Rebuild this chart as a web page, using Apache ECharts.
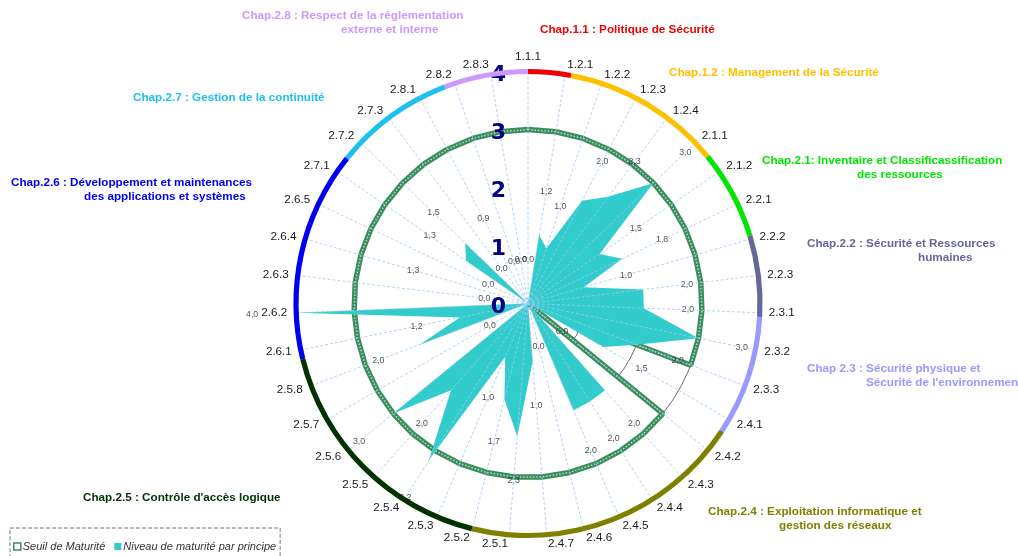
<!DOCTYPE html>
<html><head><meta charset="utf-8">
<script src="https://cdn.jsdelivr.net/npm/echarts@6/dist/echarts.min.js"></script>
<style>html,body{margin:0;padding:0;background:#fff}#c{width:1018px;height:556px}</style>
</head><body><div id="c"></div>
<script>
// ---- data ----
const categories = ['1.1.1','1.2.1','1.2.2','1.2.3','1.2.4','2.1.1','2.1.2','2.2.1','2.2.2','2.2.3',
  '2.3.1','2.3.2','2.3.3','2.4.1','2.4.2','2.4.3','2.4.4','2.4.5','2.4.6','2.4.7',
  '2.5.1','2.5.2','2.5.3','2.5.4','2.5.5','2.5.6','2.5.7','2.5.8','2.6.1','2.6.2',
  '2.6.3','2.6.4','2.6.5','2.7.1','2.7.2','2.7.3','2.8.1','2.8.2','2.8.3'];
const niveau = [0.0,1.2,1.0,2.0,2.3,3.0,1.5,1.8,1.0,2.0,
  2.0,3.0,2.0,1.5,0.0,2.0,2.0,2.0,0.0,1.0,
  2.3,1.7,1.0,3.2,2.0,3.0,0.0,2.0,1.2,4.0,
  0.0,1.3,0.0,1.3,1.5,0.0,0.9,0.0,0.0];
const seuil = [3,3,3,3,3,3,3,3,3,3,
  3,3,3,0,3,3,3,3,3,3,
  3,3,3,3,3,3,3,3,3,3,
  3,3,3,3,3,3,3,3,3];
const radiusTicks = [0,1,2,3,4];
const chapterNames = ['Chap.1.1','Chap.1.2','Chap.2.1','Chap.2.2','Chap.2.3','Chap.2.4','Chap.2.5','Chap.2.6','Chap.2.7','Chap.2.8'];
const chapterSpans = [10.7,40.0,22.3,20.3,30.1,70.6,62.1,52.6,30.3,21.0];
const chapterColors = ['#ee0000','#ffc000','#00e600','#666699','#9999ff','#808000','#003300','#0000ee','#1ec0f0','#cc99ff'];

// ---- layout / style ----
const C = [528, 303.5], R = 232;
const N = categories.length;
const RMAX = radiusTicks[radiusTicks.length - 1];
const LABEL_GAP = 0.76;
const FONT = "'Liberation Sans', Arial, sans-serif";
const seuilColor = '#3a8d5d', niveauColor = '#33cccc';
const catFont = {fontSize: 11.7, fontFamily: FONT, color: '#1a1a1a'};

const closed = arr => arr.map((v, i) => [v, i]).concat([[arr[0], N]]);

// category labels: left-aligned on the right half, right-aligned on the left half, vertically centred
const catLabel = (value, i) => {
  const a = i * 360 / N, s = Math.sin(a * Math.PI / 180);
  if (a === 0) return '{t|' + value + '}';
  if (Math.abs(s) < 0.3) return (s > 0 ? '{r|' : '{l|') + value + '}';
  return '{n|' + value + '}';
};

const notes = [
  ['Chap.2.8 : Respect de la réglementation', 242, 10, 9],
  ['externe et interne', 341, 23.5, 9],
  ['Chap.1.1 : Politique de Sécurité', 540, 24, 0],
  ['Chap.1.2 : Management de la Sécurité', 669, 67, 1],
  ['Chap.2.1: Inventaire et Classificassification', 762, 155, 2],
  ['des ressources', 857, 168.5, 2],
  ['Chap.2.2 : Sécurité et Ressources', 807, 238, 3],
  ['humaines', 918, 252, 3],
  ['Chap 2.3 : Sécurité physique et', 807, 363, 4],
  ["Sécurité de l'environnement", 866, 377, 4],
  ['Chap.2.4 : Exploitation informatique et', 708, 506, 5],
  ['gestion des réseaux', 779, 520, 5],
  ["Chap.2.5 : Contrôle d'accès logique", 83, 492, 6],
  ['Chap.2.6 : Développement et maintenances', 11, 177, 7],
  ['des applications et systèmes', 84, 190.5, 7],
  ['Chap.2.7 : Gestion de la continuité', 133, 92, 8]
];

const hiddenAngle = idx => ({polarIndex: idx, type: 'value', min: 0, max: N, interval: 1, startAngle: 90, clockwise: true,
  axisLine: {show: false}, axisTick: {show: false}, axisLabel: {show: false}, splitLine: {show: false}});

const chart = echarts.init(document.getElementById('c'), null, {renderer: 'canvas'});
chart.setOption({
  animation: false,
  backgroundColor: '#fff',
  polar: [{center: C, radius: R}, {center: C, radius: R}, {center: C, radius: R * (RMAX + 1) / RMAX}],
  angleAxis: [
    hiddenAngle(0),
    {polarIndex: 1, type: 'category', data: categories, boundaryGap: false, startAngle: 90, clockwise: true, z: 10,
     axisLine: {show: false}, axisTick: {show: false},
     axisLabel: {interval: 0, margin: 9, color: '#1a1a1a', fontSize: 11.7, fontFamily: FONT, lineHeight: 1,
       formatter: catLabel,
       rich: {
         n: Object.assign({lineHeight: 1}, catFont),
         r: Object.assign({lineHeight: 1, padding: [0, 0, 0, 27]}, catFont),
         l: Object.assign({lineHeight: 1, padding: [0, 27, 0, 0]}, catFont),
         t: Object.assign({lineHeight: 12}, catFont)
       }},
     splitLine: {show: true, interval: 0, lineStyle: {color: '#9ccaf2', width: 0.8, type: [3, 2]}}},
    hiddenAngle(2)
  ],
  radiusAxis: [
    {polarIndex: 0, min: 0, max: RMAX, interval: 1,
     axisLine: {show: false}, axisTick: {show: false}, axisLabel: {show: false},
     splitLine: {show: true, lineStyle: {color: '#444', width: 0.8}}},
    {polarIndex: 1, min: 0, max: RMAX, interval: 1, z: 11,
     axisLine: {show: false}, axisTick: {show: false}, splitLine: {show: false},
     axisLabel: {margin: 22, formatter: v => '{v|' + v + '}',
       rich: {v: {color: '#000080', fontSize: 22, fontWeight: 'bold', padding: [7, 0, 0, 0],
         fontFamily: "'DejaVu Sans', Verdana, sans-serif"}}}},
    {polarIndex: 2, min: 0, max: RMAX + 1, interval: 1,
     axisLine: {show: false}, axisTick: {show: false}, axisLabel: {show: false}, splitLine: {show: false}}
  ],
  legend: {
    left: 10, top: 528, orient: 'horizontal',
    padding: [13, 4, 12, 3], itemWidth: 7, itemHeight: 7, itemGap: 9,
    borderColor: '#777', borderWidth: 1, borderType: 'dashed',
    textStyle: {fontStyle: 'italic', fontSize: 11, color: '#333', fontFamily: FONT, padding: [0, 0, 0, -3]},
    data: [
      {name: 'Seuil de Maturité', icon: 'rect', itemStyle: {color: '#fff', borderColor: seuilColor, borderWidth: 1.5}},
      {name: 'Niveau de maturité par principe', icon: 'rect', itemStyle: {color: niveauColor}}
    ]
  },
  graphic: notes.map(n => ({
    type: 'text', left: n[1], top: n[2], z: 20,
    style: {text: n[0], fill: chapterColors[n[3]], fontSize: 11.7, fontWeight: 'bold', fontFamily: FONT}
  })),
  series: [
    {name: 'Seuil de Maturité', type: 'line', coordinateSystem: 'polar', polarIndex: 0,
     data: closed(seuil), symbol: 'none', z: 2, silent: true,
     itemStyle: {color: seuilColor},
     lineStyle: {color: seuilColor, width: 5.5},
     areaStyle: {color: '#fff', opacity: 1}},
    {name: 'seuil-texture', type: 'line', coordinateSystem: 'polar', polarIndex: 0,
     data: closed(seuil), symbol: 'none', z: 2, silent: true,
     lineStyle: {color: 'rgba(215,240,224,0.8)', width: 1.5, type: [1.5, 1.8]}},
    {name: 'Niveau de maturité par principe', type: 'line', coordinateSystem: 'polar', polarIndex: 0,
     data: closed(niveau), symbol: 'none', z: 3, silent: true,
     itemStyle: {color: niveauColor},
     lineStyle: {width: 0, color: niveauColor},
     areaStyle: {color: niveauColor, opacity: 1}},
    {name: 'labels', type: 'scatter', coordinateSystem: 'polar', polarIndex: 2,
     data: niveau.map((v, i) => [v + LABEL_GAP, i]), symbolSize: 1, z: 4, silent: true,
     itemStyle: {color: 'rgba(0,0,0,0)'},
     label: {show: true, position: 'inside', color: '#222', fontSize: 8.8, fontFamily: FONT,
       formatter: p => niveau[p.dataIndex].toFixed(1).replace('.', ',')}},
    {name: 'ring', type: 'pie', center: C, radius: [R - 2.6, R + 2.6], startAngle: 90, clockwise: true,
     silent: true, z: 12, label: {show: false}, labelLine: {show: false},
     itemStyle: {borderWidth: 0},
     data: chapterNames.map((n, i) => ({name: n, value: chapterSpans[i], itemStyle: {color: chapterColors[i]}}))}
  ]
});
</script></body></html>
